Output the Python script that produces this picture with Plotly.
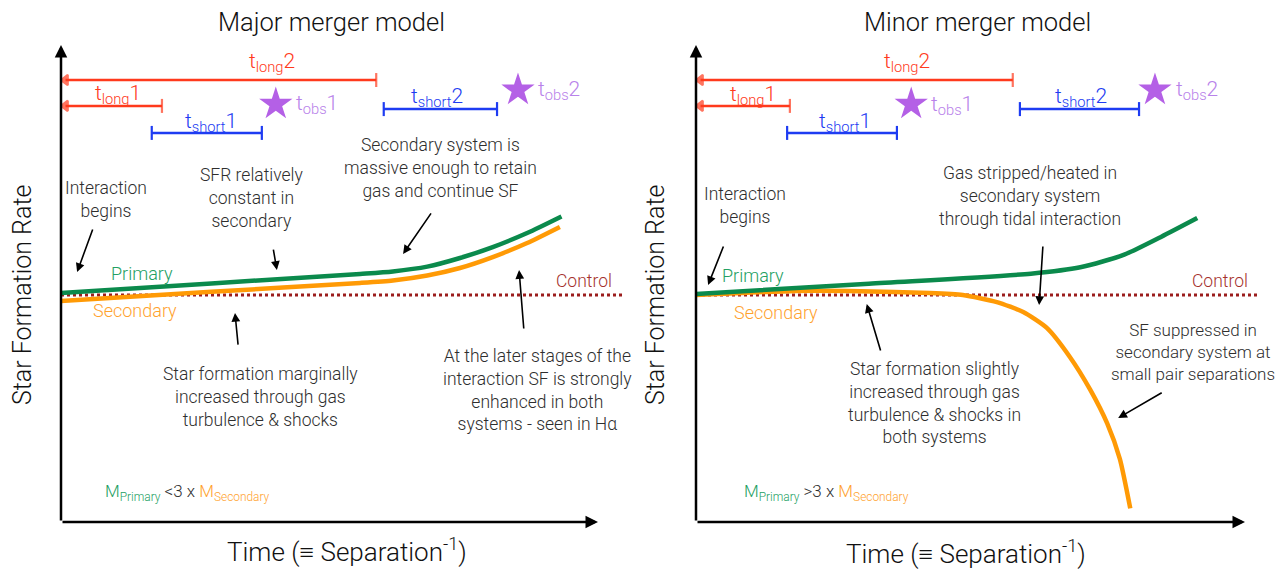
import plotly.graph_objects as go

# page is 1287x569; browser body margin is 8px, so the figure is drawn 8px in
OFF = 8
W, H = 1287 - OFF, 569 - OFF

# ---------------- data (schematic values) ----------------
# Major merger model
maj_t_primary = [0, 2.8, 5.57, 6.18, 6.82, 7.43, 8.04, 8.68, 9.32]
maj_sfr_primary = [1.009, 1.051, 1.093, 1.104, 1.125, 1.163, 1.211, 1.273, 1.346]
maj_t_secondary = [0, 2.8, 5.57, 6.18, 6.82, 7.43, 8.04, 8.68, 9.29]
maj_sfr_secondary = [0.974, 1.014, 1.053, 1.064, 1.086, 1.119, 1.167, 1.229, 1.300]
maj_t_control = [0, 10.5]

# Minor merger model
min_t_primary = [0, 3.15, 6.10, 7.00, 7.80, 8.47, 9.13]
min_sfr_primary = [1.004, 1.050, 1.094, 1.122, 1.178, 1.256, 1.339]
min_t_secondary = [0, 1.80, 3.00, 4.26, 4.86, 5.48, 5.96, 6.39, 6.81, 7.18, 7.49, 7.72, 7.91]
min_sfr_secondary = [1.0, 1.018, 1.017, 1.009, 1.000, 0.969, 0.925, 0.855, 0.727, 0.583, 0.434,
                     0.278, 0.060]
min_t_control = [0, 10.25]

control_sfr = 1.0

# timescale bars: (start, end, level)
maj_long_start = [0, 0]
maj_long_end = [1.88, 5.87]
maj_long_level = [1.833, 1.947]
maj_short_start = [1.69, 6.01]
maj_short_end = [3.74, 8.12]
maj_short_level = [1.714, 1.819]
maj_obs_t = [4.00, 8.51]
maj_obs_level = [1.841, 1.903]

min_long_start = [0, 0]
min_long_end = [1.71, 5.77]
min_long_level = [1.833, 1.947]
min_short_start = [1.66, 5.90]
min_short_end = [3.66, 8.07]
min_short_level = [1.714, 1.819]
min_obs_t = [3.92, 8.36]
min_obs_level = [1.841, 1.903]

index_labels = ["1", "2"]

# ---------------- styling ----------------
GREEN = "#0b8a4c"
GREEN_T = "#23a062"
ORANGE = "#ff9a05"
ORANGE_T = "#ffa22e"
CTRL = "#9b1d1d"
CTRL_T = "#a5302c"
RED = "#ff3a1c"
BLUE = "#1e3cf2"
STAR = "#b460e6"
STAR_T = "#b882ea"
TXT = "#2e2e2e"
FONT = "Roboto"
BODY = 17.5

LEFT_X0, LEFT_S = 61, 53.7
RIGHT_X0, RIGHT_S = 696, 54.9
Y0_PX, Y_S = 522, 227.0
TOP_PX = 40
PANEL_W = 579


def px_x(p):
    return (p - OFF) / W


def px_y(p):
    return 1 - (p - OFF) / H


fig = go.Figure()

panels = [
    dict(xa="x", ya="y", s=LEFT_S,
         tp=maj_t_primary, sp=maj_sfr_primary, ts=maj_t_secondary, ss=maj_sfr_secondary,
         tc=maj_t_control,
         ls=maj_long_start, le=maj_long_end, ll=maj_long_level,
         ss0=maj_short_start, se=maj_short_end, sl=maj_short_level,
         ot=maj_obs_t, ol=maj_obs_level),
    dict(xa="x2", ya="y2", s=RIGHT_S,
         tp=min_t_primary, sp=min_sfr_primary, ts=min_t_secondary, ss=min_sfr_secondary,
         tc=min_t_control,
         ls=min_long_start, le=min_long_end, ll=min_long_level,
         ss0=min_short_start, se=min_short_end, sl=min_short_level,
         ot=min_obs_t, ol=min_obs_level),
]

annotations = []

for p in panels:
    xa, ya, s = p["xa"], p["ya"], p["s"]
    fig.add_trace(go.Scatter(x=p["tc"], y=[control_sfr] * len(p["tc"]), mode="lines",
                             line=dict(color=CTRL, width=3, dash="dot"),
                             xaxis=xa, yaxis=ya, showlegend=False, hoverinfo="skip"))
    fig.add_trace(go.Scatter(x=p["ts"], y=p["ss"], mode="lines",
                             line=dict(color=ORANGE, width=4.5, shape="spline", smoothing=0.6),
                             xaxis=xa, yaxis=ya, showlegend=False, hoverinfo="skip"))
    fig.add_trace(go.Scatter(x=p["tp"], y=p["sp"], mode="lines",
                             line=dict(color=GREEN, width=4.5, shape="spline", smoothing=0.7),
                             xaxis=xa, yaxis=ya, showlegend=False, hoverinfo="skip"))
    off = 4.5 / s
    for a, b, lv in zip(p["ls"], p["le"], p["ll"]):
        fig.add_trace(go.Scatter(x=[a + off, b], y=[lv, lv], mode="lines+markers",
                                 line=dict(color=RED, width=2.5),
                                 marker=dict(symbol=["triangle-left", "line-ns"], size=[9, 10],
                                             color=RED, line=dict(color=RED, width=2.2)),
                                 xaxis=xa, yaxis=ya, showlegend=False, hoverinfo="skip"))
    for a, b, lv in zip(p["ss0"], p["se"], p["sl"]):
        fig.add_trace(go.Scatter(x=[a, b], y=[lv, lv], mode="lines+markers",
                                 line=dict(color=BLUE, width=2.5),
                                 marker=dict(symbol="line-ns", size=10,
                                             color=BLUE, line=dict(color=BLUE, width=2.2)),
                                 xaxis=xa, yaxis=ya, showlegend=False, hoverinfo="skip"))
    fig.add_trace(go.Scatter(x=p["ot"], y=p["ol"], mode="markers",
                             marker=dict(symbol="star", size=25, color=STAR, line=dict(width=0)),
                             xaxis=xa, yaxis=ya, showlegend=False, hoverinfo="skip"))

    # axes arrows
    annotations.append(dict(x=0, y=(Y0_PX - 45) / Y_S, ax=0, ay=0, xref=xa, yref=ya,
                            axref=xa, ayref=ya, text="", showarrow=True, arrowhead=2,
                            arrowsize=1, arrowwidth=2.5, arrowcolor="black"))
    annotations.append(dict(x=10, y=0, ax=0, ay=0, xref=xa, yref=ya,
                            axref=xa, ayref=ya, text="", showarrow=True, arrowhead=2,
                            arrowsize=1, arrowwidth=2.5, arrowcolor="black"))


def txt(xr, yr, x, y, text, color=TXT, size=BODY, xanchor="center"):
    annotations.append(dict(x=x, y=y, xref=xr, yref=yr, text=text, showarrow=False,
                            xanchor=xanchor, yanchor="middle",
                            font=dict(family=FONT, size=size, color=color, weight=300)))


def arr(xr, yr, x, y, ax, ay):
    annotations.append(dict(x=x, y=y, ax=ax, ay=ay, xref=xr, yref=yr, axref=xr, ayref=yr,
                            text="", showarrow=True, arrowhead=2, arrowsize=1.1,
                            arrowwidth=1.6, arrowcolor="black"))


def tl(name, idx):
    return f"t<sub>{name}</sub>{idx}"


TL = 21
# ---- left panel texts ----
txt("x", "y", 3.93, 2.026, tl("long", index_labels[1]), RED, TL)
txt("x", "y", 1.06, 1.885, tl("long", index_labels[0]), RED, TL)
txt("x", "y", 2.79, 1.758, tl("short", index_labels[0]), BLUE, TL)
txt("x", "y", 7.00, 1.872, tl("short", index_labels[1]), BLUE, TL)
txt("x", "y", 4.76, 1.837, tl("obs", index_labels[0]), STAR_T, TL)
txt("x", "y", 9.28, 1.899, tl("obs", index_labels[1]), STAR_T, TL)

txt("x", "y", 0.84, 1.419, "Interaction<br>begins")
arr("x", "y", 0.30, 1.101, 0.60, 1.295)
txt("x", "y", 3.56, 1.427, "SFR relatively<br>constant in<br>secondary")
arr("x", "y", 4.02, 1.110, 3.95, 1.207)
txt("x", "y", 7.06, 1.559, "Secondary system is<br>massive enough to retain<br>gas and continue SF")
arr("x", "y", 6.37, 1.181, 6.91, 1.366)
txt("x", "y", 9.74, 1.062, "Control", CTRL_T, 17.5)
txt("x", "y", 1.51, 1.093, "Primary", GREEN_T, 18)
txt("x", "y", 1.38, 0.930, "Secondary", ORANGE_T, 18)
txt("x", "y", 3.71, 0.551, "Star formation marginally<br>increased through gas<br>turbulence &amp; shocks")
arr("x", "y", 3.24, 0.921, 3.30, 0.775)
txt("x", "y", 8.88, 0.581, "At the later stages of the<br>interaction SF is strongly<br>enhanced in both<br>systems - seen in Hα")
arr("x", "y", 8.53, 1.110, 8.62, 0.846)
txt("x", "y", 2.36, 0.128,
    f"<span style='color:{GREEN_T}'>M<sub>Primary</sub></span> &lt;3 x "
    f"<span style='color:{ORANGE_T}'>M<sub>Secondary</sub></span>", TXT, 17)

# ---- right panel texts ----
txt("x2", "y2", 3.84, 2.026, tl("long", index_labels[1]), RED, TL)
txt("x2", "y2", 1.04, 1.881, tl("long", index_labels[0]), RED, TL)
txt("x2", "y2", 2.71, 1.758, tl("short", index_labels[0]), BLUE, TL)
txt("x2", "y2", 7.01, 1.872, tl("short", index_labels[1]), BLUE, TL)
txt("x2", "y2", 4.66, 1.833, tl("obs", index_labels[0]), STAR_T, TL)
txt("x2", "y2", 9.12, 1.903, tl("obs", index_labels[1]), STAR_T, TL)

txt("x2", "y2", 0.89, 1.396, "Interaction<br>begins")
arr("x2", "y2", 0.22, 1.044, 0.51, 1.220)
txt("x2", "y2", 6.08, 1.436, "Gas stripped/heated in<br>secondary system<br>through tidal interaction")
arr("x2", "y2", 6.25, 0.956, 6.32, 1.220)
txt("x2", "y2", 9.54, 1.062, "Control", CTRL_T, 17.5)
txt("x2", "y2", 1.04, 1.088, "Primary", GREEN_T, 18)
txt("x2", "y2", 1.46, 0.921, "Secondary", ORANGE_T, 18)
txt("x2", "y2", 9.06, 0.749, "SF suppressed in<br>secondary system at<br>small pair separations", TXT, 17)
arr("x2", "y2", 7.69, 0.458, 8.51, 0.573)
txt("x2", "y2", 4.34, 0.524, "Star formation slightly<br>increased through gas<br>turbulence &amp; shocks in<br>both systems")
arr("x2", "y2", 3.11, 0.960, 3.37, 0.749)
txt("x2", "y2", 2.37, 0.128,
    f"<span style='color:{GREEN_T}'>M<sub>Primary</sub></span> &gt;3 x "
    f"<span style='color:{ORANGE_T}'>M<sub>Secondary</sub></span>", TXT, 17)


# ---- titles and axis labels ----
def ptxt(xpx, ypx, text, size, angle=0):
    annotations.append(dict(x=px_x(xpx), y=px_y(ypx), xref="paper", yref="paper", text=text,
                            showarrow=False, xanchor="center", yanchor="middle", textangle=angle,
                            font=dict(family=FONT, size=size, color="#111", weight=300)))


ptxt(332, 22, "Major merger model", 25.5)
ptxt(978, 22, "Minor merger model", 25.5)
ptxt(22, 295, "Star Formation Rate", 25, -90)
ptxt(655, 295, "Star Formation Rate", 25, -90)
ptxt(347, 550, "Time (≡ Separation<sup>-1</sup>)", 26)
ptxt(966, 552, "Time (≡ Separation<sup>-1</sup>)", 26)

ax_common = dict(visible=False, showgrid=False, zeroline=False, fixedrange=True)
ydom = [px_y(Y0_PX), px_y(TOP_PX)]
fig.update_layout(
    width=W, height=H, margin=dict(l=0, r=0, t=0, b=0),
    paper_bgcolor="white", plot_bgcolor="white",
    showlegend=False,
    xaxis=dict(domain=[px_x(LEFT_X0), px_x(LEFT_X0 + PANEL_W)], range=[0, PANEL_W / LEFT_S], **ax_common),
    xaxis2=dict(domain=[px_x(RIGHT_X0), px_x(RIGHT_X0 + PANEL_W)], range=[0, PANEL_W / RIGHT_S],
                anchor="y2", **ax_common),
    yaxis=dict(domain=ydom, range=[0, (Y0_PX - TOP_PX) / Y_S], anchor="x", **ax_common),
    yaxis2=dict(domain=ydom, range=[0, (Y0_PX - TOP_PX) / Y_S], anchor="x2", **ax_common),
    annotations=annotations,
)

fig.write_html("out.html")
